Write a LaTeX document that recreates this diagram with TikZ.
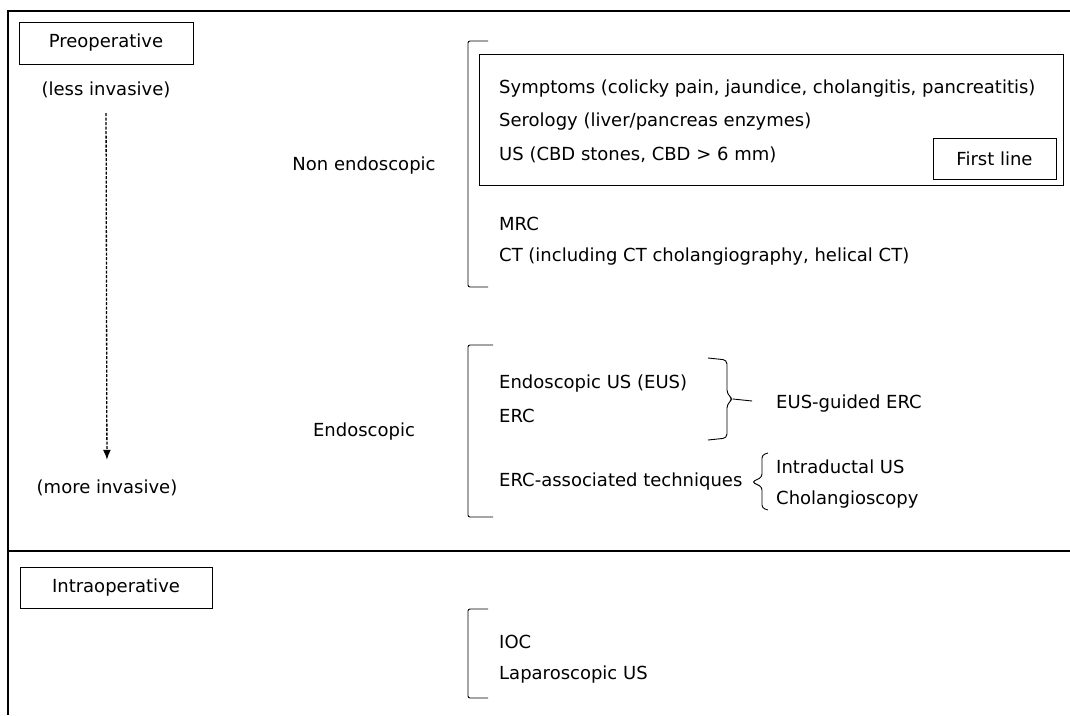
\documentclass[tikz,border=0pt]{standalone}
\usepackage{fontspec}
\setmainfont{DejaVu Sans}
\usepackage{tikz}
\usetikzlibrary{shapes,arrows,arrows.meta,calc,positioning}
\tikzstyle{line} = [draw, -{Latex[length=10pt,width=8pt]}]
\tikzstyle{tag} = [draw, rectangle, text centered, line width=0.9pt]
\tikzstyle{item} = [anchor=west, inner sep=0pt]
\tikzstyle{label} = [inner sep=0pt]
\tikzstyle{bracket} = [draw, line width=0.9pt, rounded corners=2pt]
\tikzstyle{frame} = [draw, line width=1.2pt]

\begin{document}
\begin{tikzpicture}[x=1pt, y=-1pt, font=\fontsize{18}{21}\selectfont]
        \useasboundingbox (0,0) rectangle (1070,715);
        % outer frame
        \path[frame] (1070,11) -- (8,11) -- (8,715);
        \path[frame] (8,551) -- (1070,551);
        % left column
        \node[tag, minimum width=174pt, minimum height=42pt] (preop) at (106,43) {Preoperative};
        \node[label] (less) at (106,90) {(less invasive)};
        \node[label] (more) at (107,488) {(more invasive)};
        \node[tag, minimum width=192pt, minimum height=41pt] (intraop) at (116,587.5) {Intraoperative};
        \path[line, dash pattern=on 3pt off 1.5pt, line width=1.3pt, shorten <=15pt, shorten >=20pt] (less.south) -- (more.north);
        % middle column
        \node[label] (nonendo) at (364,166) {Non endoscopic};
        \node[label] (endo) at (364,432) {Endoscopic};
        % non endoscopic
        \path[bracket] (488,41) -- (468,41) -- (468,287) -- (488,287);
        \draw[line width=0.9pt] (479,54) rectangle (1063,185);
        \node[item] (symptoms) at (499,88.5) {Symptoms (colicky pain, jaundice, cholangitis, pancreatitis)};
        \node[item] (serology) at (499,121.5) {Serology (liver/pancreas enzymes)};
        \node[item] (us) at (499,154.5) {US (CBD stones, CBD > 6 mm)};
        \node[tag, minimum width=123pt, minimum height=41pt] (firstline) at (994.5,158.5) {First line};
        \node[item] (mrc) at (499,223.5) {MRC};
        \node[item] (ct) at (499,256.5) {CT (including CT cholangiography, helical CT)};
        % endoscopic
        \path[bracket] (493,345) -- (468,345) -- (468,517) -- (493,517);
        \node[item] (eus) at (499,383.5) {Endoscopic US (EUS)};
        \node[item] (erc) at (499,415.5) {ERC};
        \node[item] (ercassoc) at (499,481.5) {ERC-associated techniques};
        \node[item] (eusguided) at (776,403.5) {EUS-guided ERC};
        \node[item] (idus) at (776,466.5) {Intraductal US};
        \node[item] (cholangio) at (776,499.5) {Cholangioscopy};
        \coordinate (eustip) at (733,399);
        \coordinate (assoctip) at (752,482);
        \path[draw, line width=0.9pt, rounded corners=4pt] (708,358) -- (727,360) -- (727,394) -- (eustip) -- (727,404) -- (727,438) -- (708,440);
        \path[draw, line width=0.9pt] (eustip) -- (eusguided.west) [shorten >=24pt];
        \path[draw, line width=0.9pt, rounded corners=3pt] (768,453) -- (762,455) -- (762,477) -- (assoctip) -- (762,487) -- (762,508) -- (768,510);
        % intraoperative
        \path[bracket] (488,609) -- (468,609) -- (468,698) -- (488,698);
        \node[item] (ioc) at (499,641.5) {IOC};
        \node[item] (lapus) at (499,674.5) {Laparoscopic US};
    \end{tikzpicture}
\end{document}
